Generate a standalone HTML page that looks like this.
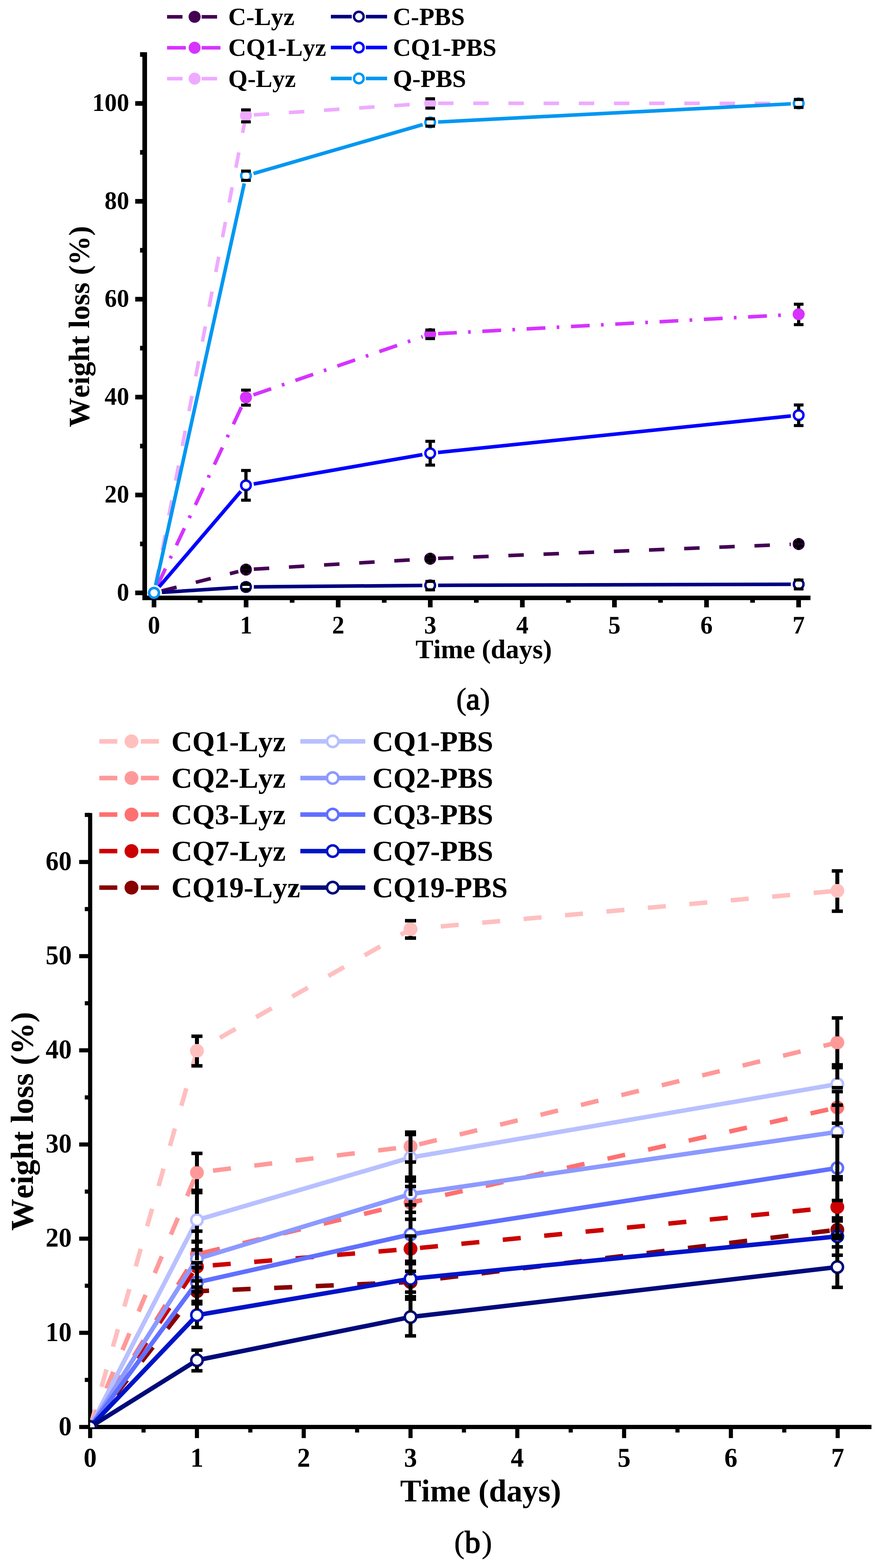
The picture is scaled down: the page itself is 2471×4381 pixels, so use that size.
<!DOCTYPE html>
<html lang="en"><head><meta charset="utf-8"><title>Weight loss (%) versus time (days)</title>
<style>html,body{margin:0;padding:0;background:#fff}body{width:2471px;height:4381px;overflow:hidden}svg{display:block}text{font-family:"Liberation Serif","DejaVu Serif",serif;fill:#000;font-kerning:none;font-variant-ligatures:none;text-rendering:geometricPrecision}</style></head><body>
<svg width="2471" height="4381" viewBox="0 0 2471 4381">
<rect width="2471" height="4381" fill="#fff"/>
<g id="chart-a">
<g id="axes-a">
<rect x="398" y="146" width="13" height="1530.8" fill="#000"/>
<rect x="398" y="1664.2" width="1867.5" height="12.6" fill="#000"/>
<rect x="378" y="1650" width="26.5" height="13" fill="#000"/>
<rect x="378" y="1376.5" width="26.5" height="13" fill="#000"/>
<rect x="378" y="1103" width="26.5" height="13" fill="#000"/>
<rect x="378" y="829.5" width="26.5" height="13" fill="#000"/>
<rect x="378" y="556" width="26.5" height="13" fill="#000"/>
<rect x="378" y="282.5" width="26.5" height="13" fill="#000"/>
<rect x="391.5" y="1513.25" width="13" height="13" fill="#000"/>
<rect x="391.5" y="1239.75" width="13" height="13" fill="#000"/>
<rect x="391.5" y="966.25" width="13" height="13" fill="#000"/>
<rect x="391.5" y="692.75" width="13" height="13" fill="#000"/>
<rect x="391.5" y="419.25" width="13" height="13" fill="#000"/>
<rect x="391.5" y="145.75" width="13" height="13" fill="#000"/>
<rect x="424" y="1670.5" width="13" height="26.5" fill="#000"/>
<rect x="681.4" y="1670.5" width="13" height="26.5" fill="#000"/>
<rect x="938.8" y="1670.5" width="13" height="26.5" fill="#000"/>
<rect x="1196.2" y="1670.5" width="13" height="26.5" fill="#000"/>
<rect x="1453.6" y="1670.5" width="13" height="26.5" fill="#000"/>
<rect x="1711" y="1670.5" width="13" height="26.5" fill="#000"/>
<rect x="1968.4" y="1670.5" width="13" height="26.5" fill="#000"/>
<rect x="2225.8" y="1670.5" width="13" height="26.5" fill="#000"/>
<rect x="552.7" y="1670.5" width="13" height="13.5" fill="#000"/>
<rect x="810.1" y="1670.5" width="13" height="13.5" fill="#000"/>
<rect x="1067.5" y="1670.5" width="13" height="13.5" fill="#000"/>
<rect x="1324.9" y="1670.5" width="13" height="13.5" fill="#000"/>
<rect x="1582.3" y="1670.5" width="13" height="13.5" fill="#000"/>
<rect x="1839.7" y="1670.5" width="13" height="13.5" fill="#000"/>
<rect x="2097.1" y="1670.5" width="13" height="13.5" fill="#000"/>
</g>
<g id="ticklabels-a">
<text transform="translate(361 1677.9) scale(0.97 1)" font-size="70.8" text-anchor="end" font-weight="bold">0</text>
<text transform="translate(361 1404.4) scale(0.97 1)" font-size="70.8" text-anchor="end" font-weight="bold">20</text>
<text transform="translate(361 1130.9) scale(0.97 1)" font-size="70.8" text-anchor="end" font-weight="bold">40</text>
<text transform="translate(361 857.4) scale(0.97 1)" font-size="70.8" text-anchor="end" font-weight="bold">60</text>
<text transform="translate(361 583.9) scale(0.97 1)" font-size="70.8" text-anchor="end" font-weight="bold">80</text>
<text transform="translate(361 310.4) scale(0.97 1)" font-size="70.8" text-anchor="end" font-weight="bold">100</text>
<text transform="translate(430.5 1769.5) scale(0.97 1)" font-size="70.8" text-anchor="middle" font-weight="bold">0</text>
<text transform="translate(687.9 1769.5) scale(0.97 1)" font-size="70.8" text-anchor="middle" font-weight="bold">1</text>
<text transform="translate(945.3 1769.5) scale(0.97 1)" font-size="70.8" text-anchor="middle" font-weight="bold">2</text>
<text transform="translate(1202.7 1769.5) scale(0.97 1)" font-size="70.8" text-anchor="middle" font-weight="bold">3</text>
<text transform="translate(1460.1 1769.5) scale(0.97 1)" font-size="70.8" text-anchor="middle" font-weight="bold">4</text>
<text transform="translate(1717.5 1769.5) scale(0.97 1)" font-size="70.8" text-anchor="middle" font-weight="bold">5</text>
<text transform="translate(1974.9 1769.5) scale(0.97 1)" font-size="70.8" text-anchor="middle" font-weight="bold">6</text>
<text transform="translate(2232.3 1769.5) scale(0.97 1)" font-size="70.8" text-anchor="middle" font-weight="bold">7</text>
</g>
<text x="1352" y="1839" font-size="75" text-anchor="middle" font-weight="bold">Time (days)</text>
<text x="249.5" y="912.6" font-size="82.3" text-anchor="middle" font-weight="bold" transform="rotate(-90 249.5 912.6)" letter-spacing="0">Weight loss (%)</text>
<g id="data-a">
<g>
<path d="M451.84 1651.1L493.64 1640.53 M547.22 1626.98L589.02 1616.41 M642.61 1602.85L666.16 1596.9 M709.46 1590.2L752.49 1587.65 M807.64 1584.38L850.67 1581.84 M905.82 1578.57L948.85 1576.02 M1004 1572.76L1047.03 1570.21 M1102.18 1566.94L1145.21 1564.39 M1224.48 1560.12L1267.55 1558.41 M1322.76 1556.21L1365.82 1554.5 M1421.03 1552.3L1464.1 1550.59 M1519.3 1548.39L1562.37 1546.68 M1617.58 1544.48L1660.64 1542.76 M1715.85 1540.57L1758.92 1538.85 M1814.12 1536.65L1857.19 1534.94 M1912.4 1532.74L1955.46 1531.03 M2010.67 1528.83L2053.73 1527.12 M2108.94 1524.92L2152.01 1523.2 M2207.21 1521.01L2210.52 1520.88" fill="none" stroke="#440154" stroke-width="10"/>
<circle cx="430.5" cy="1656.5" r="16.8" fill="#440154"/>
<circle cx="687.5" cy="1591.5" r="16.8" fill="#440154"/>
<circle cx="1202.5" cy="1561" r="16.8" fill="#440154"/>
<circle cx="2232.5" cy="1520" r="16.8" fill="#440154"/>
<rect x="683" y="1575.2" width="9" height="11" fill="#000"/>
<rect x="683" y="1595.9" width="9" height="11.9" fill="#000"/>
<rect x="674" y="1581.95" width="27" height="8.5" fill="#000"/>
<rect x="674" y="1591.65" width="27" height="8.5" fill="#000"/>
<rect x="1198" y="1544.7" width="9" height="11.3" fill="#000"/>
<rect x="1198" y="1566" width="9" height="11.3" fill="#000"/>
<rect x="1189" y="1551.75" width="27" height="8.5" fill="#000"/>
<rect x="1189" y="1561.75" width="27" height="8.5" fill="#000"/>
<rect x="2228" y="1503.7" width="9" height="10.7" fill="#000"/>
<rect x="2228" y="1525.3" width="9" height="11" fill="#000"/>
<rect x="2219" y="1510.15" width="27" height="8.5" fill="#000"/>
<rect x="2219" y="1521.05" width="27" height="8.5" fill="#000"/>
</g>
<g>
<path d="M439.92 1636.49L462.4 1588.73 M475.89 1560.08L479.1 1553.25 M493.01 1523.69L515.49 1475.93 M528.98 1447.28L532.19 1440.46 M546.11 1410.89L568.59 1363.13 M582.07 1334.48L585.28 1327.66 M599.2 1298.09L621.68 1250.34 M635.17 1221.68L638.38 1214.86 M652.29 1185.3L674.77 1137.54 M708.32 1103.34L758 1086.27 M787.81 1076.02L794.91 1073.58 M825.67 1063.01L875.35 1045.94 M905.16 1035.69L912.26 1033.25 M943.02 1022.68L992.7 1005.61 M1022.51 995.36L1029.61 992.92 M1060.36 982.35L1110.05 965.27 M1139.86 955.03L1146.96 952.59 M1177.71 942.02L1181.68 940.66 M1224.47 932.32L1276.89 929.49 M1308.35 927.8L1315.84 927.39 M1348.29 925.64L1400.72 922.82 M1432.17 921.12L1439.66 920.72 M1472.11 918.97L1524.54 916.15 M1555.99 914.45L1563.48 914.05 M1595.94 912.3L1648.36 909.48 M1679.82 907.78L1687.31 907.38 M1719.76 905.63L1772.18 902.8 M1803.64 901.11L1811.13 900.7 M1843.58 898.96L1896.01 896.13 M1927.46 894.44L1934.95 894.03 M1967.4 892.28L2019.83 889.46 M2051.28 887.76L2058.77 887.36 M2091.23 885.61L2143.65 882.79 M2175.11 881.09L2182.6 880.69" fill="none" stroke="#D633FF" stroke-width="10"/>
<circle cx="430.5" cy="1656.5" r="16.8" fill="#D633FF"/>
<circle cx="687.5" cy="1110.5" r="16.8" fill="#D633FF"/>
<circle cx="1202.5" cy="933.5" r="16.8" fill="#D633FF"/>
<circle cx="2232.5" cy="878" r="16.8" fill="#D633FF"/>
<rect x="683" y="1090" width="9" height="4.2" fill="#000"/>
<rect x="683" y="1126.8" width="9" height="5.2" fill="#000"/>
<rect x="674" y="1085.75" width="27" height="8.5" fill="#000"/>
<rect x="674" y="1127.75" width="27" height="8.5" fill="#000"/>
<rect x="1198" y="917.2" width="9" height="4.8" fill="#000"/>
<rect x="1198" y="946" width="9" height="3.8" fill="#000"/>
<rect x="1189" y="917.75" width="27" height="8.5" fill="#000"/>
<rect x="1189" y="941.75" width="27" height="8.5" fill="#000"/>
<rect x="2228" y="850" width="9" height="11.7" fill="#000"/>
<rect x="2228" y="894.3" width="9" height="12.7" fill="#000"/>
<rect x="2219" y="845.75" width="27" height="8.5" fill="#000"/>
<rect x="2219" y="902.75" width="27" height="8.5" fill="#000"/>
</g>
<g>
<path d="M434.69 1634.76L442.89 1592.17 M453.41 1537.57L461.62 1494.98 M472.14 1440.38L480.34 1397.79 M490.86 1343.19L499.06 1300.6 M509.58 1246.01L517.79 1203.41 M528.31 1148.82L536.51 1106.23 M547.03 1051.63L555.24 1009.04 M565.75 954.44L573.96 911.85 M584.48 857.25L592.68 814.66 M603.2 760.06L611.41 717.47 M621.93 662.87L630.13 620.28 M640.65 565.69L648.85 523.1 M659.37 468.5L667.58 425.91 M678.1 371.31L683.31 344.24 M709.45 321.05L752.46 318.21 M807.59 314.57L850.6 311.73 M905.73 308.09L948.74 305.25 M1003.87 301.61L1046.88 298.77 M1102.01 295.13L1145.02 292.29 M1224.5 288.51L1267.6 288.53 M1322.85 288.56L1365.95 288.58 M1421.2 288.61L1464.3 288.63 M1519.55 288.65L1562.65 288.67 M1617.9 288.7L1661 288.72 M1716.25 288.75L1759.35 288.77 M1814.6 288.8L1857.7 288.82 M1912.95 288.84L1956.05 288.87 M2011.3 288.89L2054.4 288.91 M2109.65 288.94L2152.75 288.96 M2208 288.99L2210.5 288.99" fill="none" stroke="#EEAAFF" stroke-width="10"/>
<circle cx="430.5" cy="1656.5" r="16.8" fill="#EEAAFF"/>
<circle cx="687.5" cy="322.5" r="16.8" fill="#EEAAFF"/>
<circle cx="1202.5" cy="288.5" r="16.8" fill="#EEAAFF"/>
<circle cx="2232.5" cy="289" r="16.8" fill="#EEAAFF"/>
<rect x="683" y="306.2" width="9" height="0.8" fill="#000"/>
<rect x="683" y="338.8" width="9" height="1.7" fill="#000"/>
<rect x="674" y="302.75" width="27" height="8.5" fill="#000"/>
<rect x="674" y="336.25" width="27" height="8.5" fill="#000"/>
<rect x="1198" y="272.2" width="9" height="3.8" fill="#000"/>
<rect x="1198" y="302" width="9" height="2.8" fill="#000"/>
<rect x="1189" y="271.75" width="27" height="8.5" fill="#000"/>
<rect x="1189" y="297.75" width="27" height="8.5" fill="#000"/>
<rect x="2228" y="272.7" width="9" height="5.3" fill="#000"/>
<rect x="2228" y="300" width="9" height="5.3" fill="#000"/>
<rect x="2219" y="273.75" width="27" height="8.5" fill="#000"/>
<rect x="2219" y="295.75" width="27" height="8.5" fill="#000"/>
</g>
<g>
<line x1="452.45" y1="1655.09" x2="665.55" y2="1641.41" stroke="#000080" stroke-width="10"/>
<line x1="709.5" y1="1639.81" x2="1180.5" y2="1635.69" stroke="#000080" stroke-width="10"/>
<line x1="1224.5" y1="1635.44" x2="2210.5" y2="1632.56" stroke="#000080" stroke-width="10"/>
<circle cx="430.5" cy="1656.5" r="13.45" fill="#fff" stroke="#000080" stroke-width="6.7"/>
<circle cx="687.5" cy="1640" r="13.45" fill="#fff" stroke="#000080" stroke-width="6.7"/>
<circle cx="1202.5" cy="1635.5" r="13.45" fill="#fff" stroke="#000080" stroke-width="6.7"/>
<circle cx="2232.5" cy="1632.5" r="13.45" fill="#fff" stroke="#000080" stroke-width="6.7"/>
<rect x="683" y="1626.55" width="9" height="6.15" fill="#000"/>
<rect x="683" y="1647.1" width="9" height="6.35" fill="#000"/>
<rect x="674" y="1628.45" width="27" height="8.5" fill="#000"/>
<rect x="674" y="1642.85" width="27" height="8.5" fill="#000"/>
<rect x="1198" y="1622.05" width="9" height="2.45" fill="#000"/>
<rect x="1198" y="1648" width="9" height="0.95" fill="#000"/>
<rect x="1189" y="1620.25" width="27" height="8.5" fill="#000"/>
<rect x="1189" y="1643.75" width="27" height="8.5" fill="#000"/>
<rect x="2228" y="1619.05" width="9" height="1.55" fill="#000"/>
<rect x="2228" y="1645.5" width="9" height="0.45" fill="#000"/>
<rect x="2219" y="1616.35" width="27" height="8.5" fill="#000"/>
<rect x="2219" y="1641.25" width="27" height="8.5" fill="#000"/>
</g>
<g>
<line x1="444.8" y1="1639.78" x2="673.2" y2="1372.72" stroke="#0000FF" stroke-width="10"/>
<line x1="709.18" y1="1352.23" x2="1180.82" y2="1270.27" stroke="#0000FF" stroke-width="10"/>
<line x1="1224.38" y1="1264.24" x2="2210.62" y2="1162.26" stroke="#0000FF" stroke-width="10"/>
<circle cx="430.5" cy="1656.5" r="13.45" fill="#fff" stroke="#0000FF" stroke-width="6.7"/>
<circle cx="687.5" cy="1356" r="13.45" fill="#fff" stroke="#0000FF" stroke-width="6.7"/>
<circle cx="1202.5" cy="1266.5" r="13.45" fill="#fff" stroke="#0000FF" stroke-width="6.7"/>
<circle cx="2232.5" cy="1160" r="13.45" fill="#fff" stroke="#0000FF" stroke-width="6.7"/>
<rect x="683" y="1314.5" width="9" height="28.05" fill="#000"/>
<rect x="683" y="1369.45" width="9" height="28.05" fill="#000"/>
<rect x="674" y="1310.25" width="27" height="8.5" fill="#000"/>
<rect x="674" y="1393.25" width="27" height="8.5" fill="#000"/>
<rect x="1198" y="1233" width="9" height="20.05" fill="#000"/>
<rect x="1198" y="1279.95" width="9" height="19.55" fill="#000"/>
<rect x="1189" y="1228.75" width="27" height="8.5" fill="#000"/>
<rect x="1189" y="1295.25" width="27" height="8.5" fill="#000"/>
<rect x="2228" y="1131.5" width="9" height="15.05" fill="#000"/>
<rect x="2228" y="1173.45" width="9" height="15.55" fill="#000"/>
<rect x="2219" y="1127.25" width="27" height="8.5" fill="#000"/>
<rect x="2219" y="1184.75" width="27" height="8.5" fill="#000"/>
</g>
<g>
<line x1="435.24" y1="1635.02" x2="682.76" y2="512.48" stroke="#0097F2" stroke-width="10"/>
<line x1="708.63" y1="484.89" x2="1181.37" y2="348.11" stroke="#0097F2" stroke-width="10"/>
<line x1="1224.47" y1="340.87" x2="2210.53" y2="290.13" stroke="#0097F2" stroke-width="10"/>
<circle cx="430.5" cy="1656.5" r="13.45" fill="#fff" stroke="#0097F2" stroke-width="6.7"/>
<circle cx="687.5" cy="491" r="13.45" fill="#fff" stroke="#0097F2" stroke-width="6.7"/>
<circle cx="1202.5" cy="342" r="13.45" fill="#fff" stroke="#0097F2" stroke-width="6.7"/>
<circle cx="2232.5" cy="289" r="13.45" fill="#fff" stroke="#0097F2" stroke-width="6.7"/>
<rect x="683" y="477.55" width="9" height="0.45" fill="#000"/>
<rect x="683" y="504" width="9" height="0.45" fill="#000"/>
<rect x="674" y="473.75" width="27" height="8.5" fill="#000"/>
<rect x="674" y="499.75" width="27" height="8.5" fill="#000"/>
<rect x="1198" y="328.55" width="9" height="3.45" fill="#000"/>
<rect x="1198" y="352.5" width="9" height="2.95" fill="#000"/>
<rect x="1189" y="327.75" width="27" height="8.5" fill="#000"/>
<rect x="1189" y="348.25" width="27" height="8.5" fill="#000"/>
<rect x="2228" y="275.55" width="9" height="2.45" fill="#000"/>
<rect x="2228" y="300" width="9" height="2.45" fill="#000"/>
<rect x="2219" y="273.75" width="27" height="8.5" fill="#000"/>
<rect x="2219" y="295.75" width="27" height="8.5" fill="#000"/>
</g>
</g>
<g id="err-a">
</g>
<g id="top-a">
</g>
<g id="legend-a">
<line x1="467" y1="47" x2="524.3" y2="47" stroke="#440154" stroke-width="10" stroke-dasharray="43.1 55.25"/>
<line x1="563.7" y1="47" x2="621" y2="47" stroke="#440154" stroke-width="10" stroke-dasharray="43.1 55.25"/>
<circle cx="544" cy="47" r="16.8" fill="#440154"/>
<text x="638" y="70" font-size="69.4" text-anchor="start" font-weight="bold">C-Lyz</text>
<line x1="467" y1="133.4" x2="524.3" y2="133.4" stroke="#D633FF" stroke-width="10" stroke-dasharray="52.5 31.5 7.5 32.5"/>
<line x1="563.7" y1="133.4" x2="621" y2="133.4" stroke="#D633FF" stroke-width="10" stroke-dasharray="52.5 31.5 7.5 32.5"/>
<circle cx="544" cy="133.4" r="16.8" fill="#D633FF"/>
<text x="638" y="156.4" font-size="69.4" text-anchor="start" font-weight="bold">CQ1-Lyz</text>
<line x1="467" y1="219.8" x2="524.3" y2="219.8" stroke="#EEAAFF" stroke-width="10" stroke-dasharray="43.1 55.25"/>
<line x1="563.7" y1="219.8" x2="621" y2="219.8" stroke="#EEAAFF" stroke-width="10" stroke-dasharray="43.1 55.25"/>
<circle cx="544" cy="219.8" r="16.8" fill="#EEAAFF"/>
<text x="638" y="242.8" font-size="69.4" text-anchor="start" font-weight="bold">Q-Lyz</text>
<line x1="924.9" y1="46.4" x2="983.3" y2="46.4" stroke="#000080" stroke-width="10"/>
<line x1="1022.7" y1="46.4" x2="1082" y2="46.4" stroke="#000080" stroke-width="10"/>
<circle cx="1003" cy="46.4" r="13.45" fill="#fff" stroke="#000080" stroke-width="6.7"/>
<text x="1098.5" y="70" font-size="69.4" text-anchor="start" font-weight="bold">C-PBS</text>
<line x1="924.9" y1="132.8" x2="983.3" y2="132.8" stroke="#0000FF" stroke-width="10"/>
<line x1="1022.7" y1="132.8" x2="1082" y2="132.8" stroke="#0000FF" stroke-width="10"/>
<circle cx="1003" cy="132.8" r="13.45" fill="#fff" stroke="#0000FF" stroke-width="6.7"/>
<text x="1098.5" y="156.4" font-size="69.4" text-anchor="start" font-weight="bold">CQ1-PBS</text>
<line x1="924.9" y1="219.2" x2="983.3" y2="219.2" stroke="#0097F2" stroke-width="10"/>
<line x1="1022.7" y1="219.2" x2="1082" y2="219.2" stroke="#0097F2" stroke-width="10"/>
<circle cx="1003" cy="219.2" r="13.45" fill="#fff" stroke="#0097F2" stroke-width="6.7"/>
<text x="1098.5" y="242.8" font-size="69.4" text-anchor="start" font-weight="bold">Q-PBS</text>
</g>
</g>
<text y="1981.5" font-size="87" font-weight="normal" stroke="#000" stroke-linejoin="round"><tspan x="1275" stroke-width="0.8">(</tspan><tspan x="1303" stroke-width="2.6">a</tspan><tspan x="1341" stroke-width="0.8">)</tspan></text>
<g id="chart-b">
<g id="axes-b">
<rect x="246.2" y="2271.5" width="11.6" height="1721.4" fill="#000"/>
<rect x="246.2" y="3981.1" width="2189.8" height="11.8" fill="#000"/>
<rect x="221.3" y="3981.25" width="30.7" height="11.5" fill="#000"/>
<rect x="221.3" y="3718.15" width="30.7" height="11.5" fill="#000"/>
<rect x="221.3" y="3455.05" width="30.7" height="11.5" fill="#000"/>
<rect x="221.3" y="3191.95" width="30.7" height="11.5" fill="#000"/>
<rect x="221.3" y="2928.85" width="30.7" height="11.5" fill="#000"/>
<rect x="221.3" y="2665.75" width="30.7" height="11.5" fill="#000"/>
<rect x="221.3" y="2402.65" width="30.7" height="11.5" fill="#000"/>
<rect x="237" y="3849.7" width="15" height="11.5" fill="#000"/>
<rect x="237" y="3586.6" width="15" height="11.5" fill="#000"/>
<rect x="237" y="3323.5" width="15" height="11.5" fill="#000"/>
<rect x="237" y="3060.4" width="15" height="11.5" fill="#000"/>
<rect x="237" y="2797.3" width="15" height="11.5" fill="#000"/>
<rect x="237" y="2534.2" width="15" height="11.5" fill="#000"/>
<rect x="237" y="2271.1" width="15" height="11.5" fill="#000"/>
<rect x="246.25" y="3987" width="11.5" height="31" fill="#000"/>
<rect x="544.75" y="3987" width="11.5" height="31" fill="#000"/>
<rect x="843.25" y="3987" width="11.5" height="31" fill="#000"/>
<rect x="1141.75" y="3987" width="11.5" height="31" fill="#000"/>
<rect x="1440.25" y="3987" width="11.5" height="31" fill="#000"/>
<rect x="1738.75" y="3987" width="11.5" height="31" fill="#000"/>
<rect x="2037.25" y="3987" width="11.5" height="31" fill="#000"/>
<rect x="2335.75" y="3987" width="11.5" height="31" fill="#000"/>
<rect x="395.5" y="3987" width="11.5" height="15.5" fill="#000"/>
<rect x="694" y="3987" width="11.5" height="15.5" fill="#000"/>
<rect x="992.5" y="3987" width="11.5" height="15.5" fill="#000"/>
<rect x="1291" y="3987" width="11.5" height="15.5" fill="#000"/>
<rect x="1589.5" y="3987" width="11.5" height="15.5" fill="#000"/>
<rect x="1888" y="3987" width="11.5" height="15.5" fill="#000"/>
<rect x="2186.5" y="3987" width="11.5" height="15.5" fill="#000"/>
</g>
<g id="ticklabels-b">
<text transform="translate(200.5 4009.6) scale(0.96 1)" font-size="76" text-anchor="end" font-weight="bold">0</text>
<text transform="translate(200.5 3746.5) scale(0.96 1)" font-size="76" text-anchor="end" font-weight="bold">10</text>
<text transform="translate(200.5 3483.4) scale(0.96 1)" font-size="76" text-anchor="end" font-weight="bold">20</text>
<text transform="translate(200.5 3220.3) scale(0.96 1)" font-size="76" text-anchor="end" font-weight="bold">30</text>
<text transform="translate(200.5 2957.2) scale(0.96 1)" font-size="76" text-anchor="end" font-weight="bold">40</text>
<text transform="translate(200.5 2694.1) scale(0.96 1)" font-size="76" text-anchor="end" font-weight="bold">50</text>
<text transform="translate(200.5 2431) scale(0.96 1)" font-size="76" text-anchor="end" font-weight="bold">60</text>
<text transform="translate(252 4097.7) scale(0.96 1)" font-size="76" text-anchor="middle" font-weight="bold">0</text>
<text transform="translate(550.5 4097.7) scale(0.96 1)" font-size="76" text-anchor="middle" font-weight="bold">1</text>
<text transform="translate(849 4097.7) scale(0.96 1)" font-size="76" text-anchor="middle" font-weight="bold">2</text>
<text transform="translate(1147.5 4097.7) scale(0.96 1)" font-size="76" text-anchor="middle" font-weight="bold">3</text>
<text transform="translate(1446 4097.7) scale(0.96 1)" font-size="76" text-anchor="middle" font-weight="bold">4</text>
<text transform="translate(1744.5 4097.7) scale(0.96 1)" font-size="76" text-anchor="middle" font-weight="bold">5</text>
<text transform="translate(2043 4097.7) scale(0.96 1)" font-size="76" text-anchor="middle" font-weight="bold">6</text>
<text transform="translate(2341.5 4097.7) scale(0.96 1)" font-size="76" text-anchor="middle" font-weight="bold">7</text>
</g>
<text x="1343.5" y="4195" font-size="88.5" text-anchor="middle" font-weight="bold">Time (days)</text>
<text x="91.5" y="3133" font-size="89.5" text-anchor="middle" font-weight="bold" transform="rotate(-90 91.5 3133)" letter-spacing="0">Weight loss (%)</text>
<clipPath id="clip-b"><rect x="252" y="2200" width="2219" height="1788"/></clipPath>
<g id="data-b" clip-path="url(#clip-b)">
<g>
<path d="M252 3987L265.82 3938.37 M283.87 3874.8L297.69 3826.17 M315.74 3762.61L329.56 3713.97 M347.61 3650.41L361.43 3601.78 M379.49 3538.21L393.3 3489.58 M411.36 3426.02L425.17 3377.38 M443.23 3313.82L457.05 3265.19 M475.1 3201.62L488.92 3152.99 M506.97 3089.43L520.79 3040.79 M538.84 2977.23L550.5 2936.2 M550.5 2936.2L557.35 2932.3 M614.63 2899.66L658.46 2874.68 M715.73 2842.04L759.56 2817.07 M816.84 2784.43L860.66 2759.45 M917.94 2726.82L961.76 2701.84 M1019.04 2669.2L1062.87 2644.23 M1120.15 2611.59L1147.5 2596 M1147.5 2596L1166.37 2594.3 M1231.97 2588.41L1282.17 2583.9 M1347.78 2578L1397.98 2573.49 M1463.59 2567.6L1513.79 2563.09 M1579.39 2557.19L1629.59 2552.68 M1695.2 2546.79L1745.4 2542.27 M1811.01 2536.38L1861.21 2531.87 M1926.81 2525.97L1977.01 2521.46 M2042.62 2515.57L2092.82 2511.06 M2158.43 2505.16L2208.63 2500.65 M2274.23 2494.75L2324.43 2490.24" fill="none" stroke="#FFBFBF" stroke-width="12.5"/>
<circle cx="252" cy="3987" r="19.4" fill="#FFBFBF"/>
<circle cx="550.5" cy="2936.2" r="19.4" fill="#FFBFBF"/>
<circle cx="1147.5" cy="2596" r="19.4" fill="#FFBFBF"/>
<circle cx="2340.5" cy="2488.8" r="19.4" fill="#FFBFBF"/>
</g>
<g>
<path d="M252 3987L271.57 3940.4 M297.15 3879.49L316.72 3832.89 M342.3 3771.98L361.87 3725.38 M387.45 3664.47L407.02 3617.87 M432.6 3556.96L452.17 3510.36 M477.74 3449.45L497.32 3402.85 M522.89 3341.94L542.46 3295.33 M595.34 3270.72L645.37 3264.6 M710.76 3256.6L760.79 3250.49 M826.18 3242.49L876.21 3236.37 M941.59 3228.38L991.62 3222.26 M1057.01 3214.27L1107.04 3208.15 M1171.9 3197.26L1220.88 3185.34 M1284.89 3169.76L1333.87 3157.83 M1397.89 3142.25L1446.87 3130.33 M1510.88 3114.75L1559.86 3102.82 M1623.87 3087.24L1672.85 3075.32 M1736.86 3059.74L1785.84 3047.81 M1849.86 3032.23L1898.84 3020.31 M1962.85 3004.73L2011.83 2992.8 M2075.84 2977.22L2124.82 2965.3 M2188.84 2949.72L2237.81 2937.8 M2301.83 2922.21L2340.5 2912.8" fill="none" stroke="#FF9999" stroke-width="12.5"/>
<circle cx="252" cy="3987" r="19.4" fill="#FF9999"/>
<circle cx="550.5" cy="3276.2" r="19.4" fill="#FF9999"/>
<circle cx="1147.5" cy="3203.2" r="19.4" fill="#FF9999"/>
<circle cx="2340.5" cy="2912.8" r="19.4" fill="#FF9999"/>
</g>
<g>
<path d="M252 3987L278.58 3944.03 M313.32 3887.88L339.9 3844.91 M374.64 3788.76L401.22 3745.79 M435.96 3689.64L462.54 3646.67 M497.28 3590.52L523.87 3547.55 M565.44 3500.89L614.44 3489.04 M678.48 3473.57L727.48 3461.72 M791.52 3446.24L840.51 3434.4 M904.55 3418.92L953.55 3407.08 M1017.59 3391.6L1066.59 3379.76 M1130.63 3364.28L1147.5 3360.2 M1147.5 3360.2L1179.76 3353.01 M1244.06 3338.68L1293.26 3327.71 M1357.56 3313.38L1406.76 3302.41 M1471.07 3288.08L1520.27 3277.12 M1584.57 3262.78L1633.77 3251.82 M1698.07 3237.49L1747.27 3226.52 M1811.58 3212.19L1860.78 3201.22 M1925.08 3186.89L1974.28 3175.92 M2038.58 3161.59L2087.78 3150.63 M2152.09 3136.29L2201.29 3125.33 M2265.59 3111L2314.79 3100.03" fill="none" stroke="#FF7070" stroke-width="12.5"/>
<circle cx="252" cy="3987" r="19.4" fill="#FF7070"/>
<circle cx="550.5" cy="3504.5" r="19.4" fill="#FF7070"/>
<circle cx="1147.5" cy="3360.2" r="19.4" fill="#FF7070"/>
<circle cx="2340.5" cy="3094.3" r="19.4" fill="#FF7070"/>
</g>
<g>
<path d="M252 3987L280.01 3944.96 M316.62 3890.01L344.63 3847.97 M381.24 3793.03L409.26 3750.99 M445.86 3696.04L473.88 3654 M510.49 3599.05L538.5 3557.01 M594.62 3535.32L644.85 3531.13 M710.49 3525.65L760.72 3521.46 M826.36 3515.99L876.59 3511.8 M942.23 3506.32L992.46 3502.13 M1058.1 3496.66L1108.33 3492.47 M1173.94 3486.61L1224.1 3481.71 M1289.66 3475.29L1339.82 3470.39 M1405.38 3463.97L1455.55 3459.07 M1521.11 3452.65L1571.27 3447.75 M1636.83 3441.33L1686.99 3436.43 M1752.55 3430.01L1802.71 3425.11 M1868.27 3418.69L1918.43 3413.79 M1983.99 3407.37L2034.15 3402.47 M2099.71 3396.05L2149.87 3391.15 M2215.43 3384.73L2265.6 3379.83 M2331.16 3373.41L2340.5 3372.5" fill="none" stroke="#CC0000" stroke-width="12.5"/>
<circle cx="252" cy="3987" r="19.4" fill="#CC0000"/>
<circle cx="550.5" cy="3539" r="19.4" fill="#CC0000"/>
<circle cx="1147.5" cy="3489.2" r="19.4" fill="#CC0000"/>
<circle cx="2340.5" cy="3372.5" r="19.4" fill="#CC0000"/>
</g>
<g>
<path d="M252 3987L283.24 3947.31 M324.07 3895.45L355.31 3855.76 M396.14 3803.9L427.37 3764.21 M468.2 3712.35L499.44 3672.66 M540.27 3620.79L550.5 3607.8 M550.5 3607.8L584.37 3606.34 M650.17 3603.49L700.53 3601.32 M766.34 3598.47L816.69 3596.3 M882.5 3593.45L932.85 3591.28 M998.66 3588.43L1049.01 3586.26 M1114.82 3583.41L1147.5 3582 M1147.5 3582L1165.06 3579.85 M1230.45 3571.84L1280.48 3565.72 M1345.86 3557.71L1395.89 3551.58 M1461.28 3543.57L1511.3 3537.45 M1576.69 3529.44L1626.72 3523.31 M1692.1 3515.31L1742.13 3509.18 M1807.52 3501.17L1857.54 3495.04 M1922.93 3487.04L1972.96 3480.91 M2038.34 3472.9L2088.37 3466.78 M2153.76 3458.77L2203.79 3452.64 M2269.17 3444.64L2319.2 3438.51" fill="none" stroke="#880000" stroke-width="12.5"/>
<circle cx="252" cy="3987" r="19.4" fill="#880000"/>
<circle cx="550.5" cy="3607.8" r="19.4" fill="#880000"/>
<circle cx="1147.5" cy="3582" r="19.4" fill="#880000"/>
<circle cx="2340.5" cy="3435.9" r="19.4" fill="#880000"/>
</g>
<g>
<polyline points="252,3987 550.5,3408.8 1147.5,3234.2 2340.5,3029" fill="none" stroke="#B8C0FF" stroke-width="12.5" stroke-linejoin="miter"/>
<circle cx="252" cy="3987" r="15.9" fill="#fff" stroke="#B8C0FF" stroke-width="7"/>
<circle cx="550.5" cy="3408.8" r="15.9" fill="#fff" stroke="#B8C0FF" stroke-width="7"/>
<circle cx="1147.5" cy="3234.2" r="15.9" fill="#fff" stroke="#B8C0FF" stroke-width="7"/>
<circle cx="2340.5" cy="3029" r="15.9" fill="#fff" stroke="#B8C0FF" stroke-width="7"/>
</g>
<g>
<polyline points="252,3987 550.5,3517.5 1147.5,3336.4 2340.5,3162.5" fill="none" stroke="#8C99FF" stroke-width="12.5" stroke-linejoin="miter"/>
<circle cx="252" cy="3987" r="15.9" fill="#fff" stroke="#8C99FF" stroke-width="7"/>
<circle cx="550.5" cy="3517.5" r="15.9" fill="#fff" stroke="#8C99FF" stroke-width="7"/>
<circle cx="1147.5" cy="3336.4" r="15.9" fill="#fff" stroke="#8C99FF" stroke-width="7"/>
<circle cx="2340.5" cy="3162.5" r="15.9" fill="#fff" stroke="#8C99FF" stroke-width="7"/>
</g>
<g>
<polyline points="252,3987 550.5,3583 1147.5,3449 2340.5,3263.4" fill="none" stroke="#6070FF" stroke-width="12.5" stroke-linejoin="miter"/>
<circle cx="252" cy="3987" r="15.9" fill="#fff" stroke="#6070FF" stroke-width="7"/>
<circle cx="550.5" cy="3583" r="15.9" fill="#fff" stroke="#6070FF" stroke-width="7"/>
<circle cx="1147.5" cy="3449" r="15.9" fill="#fff" stroke="#6070FF" stroke-width="7"/>
<circle cx="2340.5" cy="3263.4" r="15.9" fill="#fff" stroke="#6070FF" stroke-width="7"/>
</g>
<g>
<polyline points="252,3987 550.5,3674.5 1147.5,3572.9 2340.5,3454.5" fill="none" stroke="#0014C8" stroke-width="12.5" stroke-linejoin="miter"/>
<circle cx="252" cy="3987" r="15.9" fill="#fff" stroke="#0014C8" stroke-width="7"/>
<circle cx="550.5" cy="3674.5" r="15.9" fill="#fff" stroke="#0014C8" stroke-width="7"/>
<circle cx="1147.5" cy="3572.9" r="15.9" fill="#fff" stroke="#0014C8" stroke-width="7"/>
<circle cx="2340.5" cy="3454.5" r="15.9" fill="#fff" stroke="#0014C8" stroke-width="7"/>
</g>
<g>
<polyline points="252,3987 550.5,3800.5 1147.5,3679.8 2340.5,3540.1" fill="none" stroke="#000A7A" stroke-width="12.5" stroke-linejoin="miter"/>
<circle cx="252" cy="3987" r="15.9" fill="#fff" stroke="#000A7A" stroke-width="7"/>
<circle cx="550.5" cy="3800.5" r="15.9" fill="#fff" stroke="#000A7A" stroke-width="7"/>
<circle cx="1147.5" cy="3679.8" r="15.9" fill="#fff" stroke="#000A7A" stroke-width="7"/>
<circle cx="2340.5" cy="3540.1" r="15.9" fill="#fff" stroke="#000A7A" stroke-width="7"/>
</g>
</g>
<g id="err-b">
<rect x="545" y="2895.3" width="11" height="21.7" fill="#000"/>
<rect x="545" y="2954" width="11" height="24" fill="#000"/>
<rect x="545" y="3222.6" width="11" height="36.2" fill="#000"/>
<rect x="545" y="3294.6" width="11" height="96.4" fill="#000"/>
<rect x="545" y="3424.8" width="11" height="96.3" fill="#000"/>
<rect x="545" y="3523.5" width="11" height="136.7" fill="#000"/>
<rect x="545" y="3691.8" width="11" height="17" fill="#000"/>
<rect x="545" y="3772.4" width="11" height="10.6" fill="#000"/>
<rect x="545" y="3817.5" width="11" height="12.5" fill="#000"/>
<rect x="1142" y="2572.5" width="11" height="4.5" fill="#000"/>
<rect x="1142" y="2615" width="11" height="6" fill="#000"/>
<rect x="1142" y="3166.5" width="11" height="52.2" fill="#000"/>
<rect x="1142" y="3221.8" width="11" height="119.8" fill="#000"/>
<rect x="1142" y="3352.9" width="11" height="80.6" fill="#000"/>
<rect x="1142" y="3453" width="11" height="110.6" fill="#000"/>
<rect x="1142" y="3589.4" width="11" height="75.3" fill="#000"/>
<rect x="1142" y="3695.7" width="11" height="36.7" fill="#000"/>
<rect x="2335" y="2433.4" width="11" height="36.6" fill="#000"/>
<rect x="2335" y="2508" width="11" height="37.9" fill="#000"/>
<rect x="2335" y="2844" width="11" height="51.6" fill="#000"/>
<rect x="2335" y="2931.1" width="11" height="84.8" fill="#000"/>
<rect x="2335" y="3045" width="11" height="102.1" fill="#000"/>
<rect x="2335" y="3174.4" width="11" height="179.8" fill="#000"/>
<rect x="2335" y="3391.1" width="11" height="74.6" fill="#000"/>
<rect x="2335" y="3469.8" width="11" height="55" fill="#000"/>
<rect x="2335" y="3556.1" width="11" height="40.8" fill="#000"/>
<rect x="535" y="2890.4" width="31" height="9.8" fill="#000"/>
<rect x="535" y="2973.1" width="31" height="9.8" fill="#000"/>
<rect x="535" y="3217.7" width="31" height="9.8" fill="#000"/>
<rect x="535" y="3321" width="31" height="16" fill="#000"/>
<rect x="535" y="3435" width="31" height="9.8" fill="#000"/>
<rect x="535" y="3463.35" width="31" height="11.7" fill="#000"/>
<rect x="535" y="3487.1" width="31" height="9.8" fill="#000"/>
<rect x="535" y="3523.1" width="31" height="9.8" fill="#000"/>
<rect x="535" y="3536.9" width="31" height="9.8" fill="#000"/>
<rect x="535" y="3574" width="31" height="9.8" fill="#000"/>
<rect x="535" y="3591.2" width="31" height="9.8" fill="#000"/>
<rect x="535" y="3604.3" width="31" height="9.8" fill="#000"/>
<rect x="535" y="3631.25" width="31" height="16.5" fill="#000"/>
<rect x="535" y="3703.9" width="31" height="9.8" fill="#000"/>
<rect x="535" y="3767.5" width="31" height="9.8" fill="#000"/>
<rect x="535" y="3825.1" width="31" height="9.8" fill="#000"/>
<rect x="1132" y="2567.6" width="31" height="9.8" fill="#000"/>
<rect x="1132" y="2616.1" width="31" height="9.8" fill="#000"/>
<rect x="1132" y="3158.25" width="31" height="16.5" fill="#000"/>
<rect x="1132" y="3241.9" width="31" height="9.8" fill="#000"/>
<rect x="1132" y="3284.2" width="31" height="20.6" fill="#000"/>
<rect x="1132" y="3310.1" width="31" height="9.8" fill="#000"/>
<rect x="1132" y="3361.5" width="31" height="9.8" fill="#000"/>
<rect x="1132" y="3382.3" width="31" height="9.8" fill="#000"/>
<rect x="1132" y="3401.7" width="31" height="9.8" fill="#000"/>
<rect x="1132" y="3448.4" width="31" height="9.8" fill="#000"/>
<rect x="1132" y="3519.15" width="31" height="16.5" fill="#000"/>
<rect x="1132" y="3547.1" width="31" height="9.8" fill="#000"/>
<rect x="1132" y="3605.3" width="31" height="9.8" fill="#000"/>
<rect x="1132" y="3618.25" width="31" height="16.5" fill="#000"/>
<rect x="1132" y="3727.5" width="31" height="9.8" fill="#000"/>
<rect x="2325" y="2428.5" width="31" height="9.8" fill="#000"/>
<rect x="2325" y="2541" width="31" height="9.8" fill="#000"/>
<rect x="2325" y="2839.2" width="31" height="9.8" fill="#000"/>
<rect x="2325" y="2970.3" width="31" height="17.4" fill="#000"/>
<rect x="2325" y="3034.1" width="31" height="9.8" fill="#000"/>
<rect x="2325" y="3045.1" width="31" height="9.8" fill="#000"/>
<rect x="2325" y="3082.8" width="31" height="9.8" fill="#000"/>
<rect x="2325" y="3133.4" width="31" height="9.8" fill="#000"/>
<rect x="2325" y="3169.5" width="31" height="9.8" fill="#000"/>
<rect x="2325" y="3282.95" width="31" height="17.7" fill="#000"/>
<rect x="2325" y="3349.3" width="31" height="9.8" fill="#000"/>
<rect x="2325" y="3398.05" width="31" height="18.3" fill="#000"/>
<rect x="2325" y="3446.1" width="31" height="19.6" fill="#000"/>
<rect x="2325" y="3478.9" width="31" height="9.8" fill="#000"/>
<rect x="2325" y="3502.2" width="31" height="9.8" fill="#000"/>
<rect x="2325" y="3592" width="31" height="9.8" fill="#000"/>
</g>
<g id="top-b">
</g>
<g id="legend-b">
<line x1="277.5" y1="2071.3" x2="457.5" y2="2071.3" stroke="#FFBFBF" stroke-width="12.7" stroke-dasharray="50.4 65.87"/>
<circle cx="367.5" cy="2071.3" r="19.4" fill="#FFBFBF"/>
<text x="479" y="2098.7" font-size="81" text-anchor="start" font-weight="bold">CQ1-Lyz</text>
<line x1="277.5" y1="2173.8" x2="457.5" y2="2173.8" stroke="#FF9999" stroke-width="12.7" stroke-dasharray="50.4 65.87"/>
<circle cx="367.5" cy="2173.8" r="19.4" fill="#FF9999"/>
<text x="479" y="2201.2" font-size="81" text-anchor="start" font-weight="bold">CQ2-Lyz</text>
<line x1="277.5" y1="2275.8" x2="457.5" y2="2275.8" stroke="#FF7070" stroke-width="12.7" stroke-dasharray="50.4 65.87"/>
<circle cx="367.5" cy="2275.8" r="19.4" fill="#FF7070"/>
<text x="479" y="2303.2" font-size="81" text-anchor="start" font-weight="bold">CQ3-Lyz</text>
<line x1="277.5" y1="2378" x2="457.5" y2="2378" stroke="#CC0000" stroke-width="12.7" stroke-dasharray="50.4 65.87"/>
<circle cx="367.5" cy="2378" r="19.4" fill="#CC0000"/>
<text x="479" y="2405.4" font-size="81" text-anchor="start" font-weight="bold">CQ7-Lyz</text>
<line x1="277.5" y1="2480" x2="457.5" y2="2480" stroke="#880000" stroke-width="12.7" stroke-dasharray="50.4 65.87"/>
<circle cx="367.5" cy="2480" r="19.4" fill="#880000"/>
<text x="479" y="2507.4" font-size="81" text-anchor="start" font-weight="bold">CQ19-Lyz</text>
<line x1="839.5" y1="2071.3" x2="1021" y2="2071.3" stroke="#B8C0FF" stroke-width="12.7"/>
<circle cx="930" cy="2071.3" r="15.9" fill="#fff" stroke="#B8C0FF" stroke-width="7"/>
<text x="1041" y="2098.7" font-size="81" text-anchor="start" font-weight="bold">CQ1-PBS</text>
<line x1="839.5" y1="2173.8" x2="1021" y2="2173.8" stroke="#8C99FF" stroke-width="12.7"/>
<circle cx="930" cy="2173.8" r="15.9" fill="#fff" stroke="#8C99FF" stroke-width="7"/>
<text x="1041" y="2201.2" font-size="81" text-anchor="start" font-weight="bold">CQ2-PBS</text>
<line x1="839.5" y1="2275.8" x2="1021" y2="2275.8" stroke="#6070FF" stroke-width="12.7"/>
<circle cx="930" cy="2275.8" r="15.9" fill="#fff" stroke="#6070FF" stroke-width="7"/>
<text x="1041" y="2303.2" font-size="81" text-anchor="start" font-weight="bold">CQ3-PBS</text>
<line x1="839.5" y1="2378" x2="1021" y2="2378" stroke="#0014C8" stroke-width="12.7"/>
<circle cx="930" cy="2378" r="15.9" fill="#fff" stroke="#0014C8" stroke-width="7"/>
<text x="1041" y="2405.4" font-size="81" text-anchor="start" font-weight="bold">CQ7-PBS</text>
<line x1="839.5" y1="2480" x2="1021" y2="2480" stroke="#000A7A" stroke-width="12.7"/>
<circle cx="930" cy="2480" r="15.9" fill="#fff" stroke="#000A7A" stroke-width="7"/>
<text x="1041" y="2507.4" font-size="81" text-anchor="start" font-weight="bold">CQ19-PBS</text>
</g>
</g>
<text y="4338" font-size="87" font-weight="normal" stroke="#000" stroke-linejoin="round"><tspan x="1269.5" stroke-width="0.8">(</tspan><tspan x="1299.2" stroke-width="2.6">b</tspan><tspan x="1346.5" stroke-width="0.8">)</tspan></text>
</svg></body></html>
